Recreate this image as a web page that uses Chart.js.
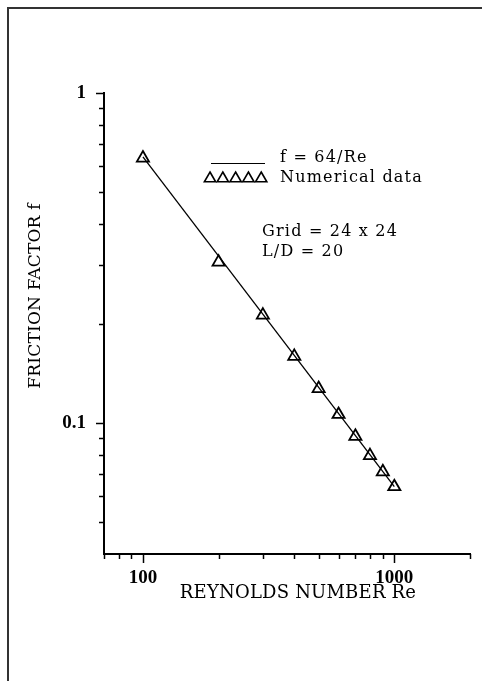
<!DOCTYPE html>
<html>
<head>
<meta charset="utf-8">
<title>Friction factor vs Reynolds number</title>
<script src="https://cdn.jsdelivr.net/npm/chart.js@4/dist/chart.umd.min.js"></script>
<style>
  html, body { margin: 0; padding: 0; background: #fff; }
</style>
</head>
<body>
<canvas id="chartFriction" width="482" height="681"></canvas>
<script>
// Dados
const reynolds = [100, 200, 300, 400, 500, 600, 700, 800, 900, 1000];
const frictionData = [0.635, 0.307, 0.212, 0.159, 0.127, 0.106, 0.091, 0.0795, 0.071, 0.064];

// f = 64/Re (extremos da reta teórica)
const theoryRe = [100, 1000];
const theoryF = [0.64, 0.064];

// Marcas dos eixos
const xLabelTicks = [100, 1000];
const xMinorTicks = [70, 80, 90, 200, 300, 400, 500, 600, 700, 800, 900, 2000];
const yLabelTicks = [0.1, 1];
const yMinorTicks = [0.05, 0.06, 0.07, 0.08, 0.09, 0.2, 0.3, 0.4, 0.5, 0.6, 0.7, 0.8, 0.9];

const legendTexts = ["f = 64/Re", "Numerical data"];
const noteTexts = ["Grid = 24 x 24", "L/D = 20"];
const xTitle = "REYNOLDS NUMBER Re";
const yTitle = "FRICTION FACTOR f";

const serifFont = '"DejaVu Serif", serif';

// Ticks, títulos, legenda e moldura desenhados à mão
const extras = {
  id: "extras",
  afterDraw(chart) {
    const { ctx, chartArea, scales } = chart;
    const x = scales.x;
    const y = scales.y;
    ctx.save();
    ctx.strokeStyle = "#000";
    ctx.lineWidth = 1.5;

    // ticks do eixo x (para baixo)
    xMinorTicks.forEach(v => {
      const px = Math.round(x.getPixelForValue(v)) + 0.5;
      ctx.beginPath();
      ctx.moveTo(px, chartArea.bottom);
      ctx.lineTo(px, chartArea.bottom + 5);
      ctx.stroke();
    });
    xLabelTicks.forEach(v => {
      const px = Math.round(x.getPixelForValue(v)) + 0.5;
      ctx.beginPath();
      ctx.moveTo(px, chartArea.bottom);
      ctx.lineTo(px, chartArea.bottom + 9);
      ctx.stroke();
    });

    // ticks do eixo y (para a esquerda)
    yMinorTicks.forEach(v => {
      const py = Math.round(y.getPixelForValue(v)) + 0.5;
      ctx.beginPath();
      ctx.moveTo(chartArea.left, py);
      ctx.lineTo(chartArea.left - 5, py);
      ctx.stroke();
    });
    yLabelTicks.forEach(v => {
      const py = Math.round(y.getPixelForValue(v)) + 0.5;
      ctx.beginPath();
      ctx.moveTo(chartArea.left, py);
      ctx.lineTo(chartArea.left - 8, py);
      ctx.stroke();
    });

    // legenda
    ctx.lineWidth = 1;
    ctx.beginPath();
    ctx.moveTo(211, 163.5);
    ctx.lineTo(265, 163.5);
    ctx.stroke();

    ctx.fillStyle = "rgba(0,0,0,0)";
    ctx.lineWidth = 1.6;
    for (let i = 0; i < 5; i++) {
      Chart.helpers.drawPoint(ctx, { pointStyle: "triangle", radius: 6.5, rotation: 0, borderWidth: 1.6 }, 210 + i * 12.8, 178.5);
    }

    ctx.fillStyle = "#000";
    ctx.font = "16px " + serifFont;
    ctx.letterSpacing = "1.2px";
    ctx.textBaseline = "middle";
    ctx.textAlign = "left";
    ctx.fillText(legendTexts[0], 280, 158);
    ctx.fillText(legendTexts[1], 280, 178);
    ctx.fillText(noteTexts[0], 262, 232);
    ctx.fillText(noteTexts[1], 262, 252);

    // títulos dos eixos
    ctx.letterSpacing = "0.2px";
    ctx.font = "18px " + serifFont;
    ctx.textAlign = "center";
    ctx.fillText(xTitle, 298, 593);

    ctx.save();
    ctx.translate(36, 296);
    ctx.rotate(-Math.PI / 2);
    ctx.font = "17px " + serifFont;
    ctx.fillText(yTitle, 0, 0);
    ctx.restore();

    // moldura
    ctx.strokeStyle = "#333";
    ctx.lineWidth = 2;
    ctx.beginPath();
    ctx.moveTo(8, 681);
    ctx.lineTo(8, 8);
    ctx.lineTo(482, 8);
    ctx.stroke();
    ctx.restore();
  }
};

const ctx = document.getElementById("chartFriction");

new Chart(ctx, {
  type: "scatter",
  data: {
    datasets: [
      {
        label: "f = 64/Re",
        data: theoryRe.map((re, i) => ({ x: re, y: theoryF[i] })),
        showLine: true,
        borderColor: "#000",
        borderWidth: 1.3,
        pointRadius: 0,
        fill: false
      },
      {
        label: "Numerical data",
        data: reynolds.map((re, i) => ({ x: re, y: frictionData[i] })),
        pointStyle: "triangle",
        pointRadius: 7,
        pointBorderWidth: 1.8,
        pointBorderColor: "#000",
        pointBackgroundColor: "rgba(0,0,0,0)"
      }
    ]
  },
  options: {
    responsive: false,
    animation: false,
    layout: { padding: { top: 93, right: 12, left: 0, bottom: 0 } },
    plugins: {
      legend: { display: false },
      tooltip: { enabled: false }
    },
    scales: {
      x: {
        type: "logarithmic",
        min: 70,
        max: 2000,
        afterBuildTicks: scale => {
          scale.ticks = xLabelTicks.map(v => ({ value: v }));
        },
        afterFit: scale => {
          scale.height = 127;
        },
        grid: { display: false, drawTicks: false },
        border: { display: true, color: "#000", width: 2 },
        ticks: {
          color: "#000",
          padding: 13,
          maxRotation: 0,
          autoSkip: false,
          font: { family: '"Liberation Serif", serif', size: 19, weight: "bold" },
          callback: v => String(v)
        }
      },
      y: {
        type: "logarithmic",
        min: 0.04,
        max: 1,
        afterBuildTicks: scale => {
          scale.ticks = yLabelTicks.map(v => ({ value: v }));
        },
        afterFit: scale => {
          scale.width = 104;
        },
        grid: { display: false, drawTicks: false },
        border: { display: true, color: "#000", width: 2 },
        ticks: {
          color: "#000",
          padding: 18,
          autoSkip: false,
          font: { family: '"Liberation Serif", serif', size: 19, weight: "bold" },
          callback: v => String(v)
        }
      }
    }
  },
  plugins: [extras]
});
</script>
</body>
</html>
